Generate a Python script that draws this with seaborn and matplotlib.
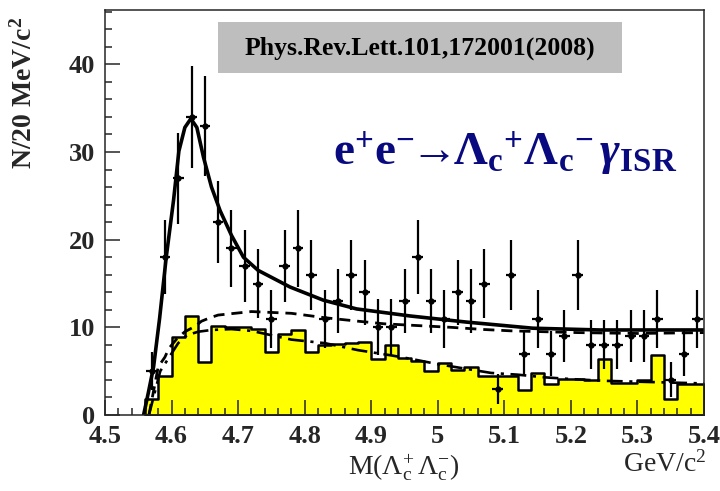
import numpy as np
import pandas as pd
import matplotlib
matplotlib.use("Agg")
import matplotlib.pyplot as plt
from matplotlib.patches import Rectangle
from matplotlib.ticker import MultipleLocator
import seaborn as sns

# ---------------- data ----------------
bin_width = 0.02
mass = np.round(np.arange(4.57, 5.395, bin_width), 2)          # data bin centres
counts = [5, 18, 27, 34, 33, 22, 19, 17, 15, 11,
          17, 19, 16, 11, 13, 16, 14, 10, 10, 13,
          18, 13, 11, 14, 13, 15, 3, 16, 7, 11,
          7, 9, 16, 8, 8, 8, 9, 9, 11, 4,
          7, 11]
errors = [2.2, 4.2, 5.2, 5.8, 5.7, 4.7, 4.4, 4.1, 3.9, 3.3,
          4.1, 4.4, 4.0, 3.3, 3.6, 4.0, 3.7, 3.2, 3.2, 3.6,
          4.2, 3.6, 3.3, 3.7, 3.6, 3.9, 1.7, 4.0, 2.6, 3.3,
          2.6, 3.0, 4.0, 2.8, 2.8, 2.8, 3.0, 3.0, 3.3, 2.0,
          2.6, 3.3]

hist_edges = [round(v, 2) for v in np.arange(4.56, 5.405, bin_width)]
hist_vals = [1.8, 4.4, 8.9, 11.3, 6.1, 10.2, 10.0, 10.0, 9.8, 7.2,
             9.2, 9.7, 7.2, 8.0, 8.1, 8.2, 8.3, 6.4, 8.0, 6.5,
             6.2, 5.0, 5.9, 5.1, 5.5, 4.4, 4.4, 4.5, 2.9, 4.8,
             3.5, 4.1, 4.1, 4.0, 6.4, 3.7, 3.6, 4.0, 6.8, 1.8,
             3.5, 3.5]
hist_centers = [e + bin_width / 2 for e in hist_edges[:-1]]

fit_x = [4.558, 4.565, 4.573, 4.582, 4.592, 4.603, 4.611, 4.620, 4.629, 4.638,
         4.648, 4.660, 4.673, 4.690, 4.708, 4.730, 4.778, 4.828, 4.878, 4.928,
         4.958, 5.043, 5.143, 5.243, 5.343, 5.400]
fit_y = [0.0, 2.5, 5.5, 11.0, 18.0, 24.5, 30.1, 32.8, 33.8, 32.8,
         29.4, 26.0, 23.3, 20.5, 18.0, 16.5, 14.6, 13.1, 12.1, 11.6,
         11.3, 10.6, 9.9, 9.7, 9.7, 9.7]

bkg_x = [4.566, 4.580, 4.590, 4.596, 4.608, 4.620, 4.635, 4.645, 4.658, 4.670,
         4.720, 4.780, 4.830, 4.880, 4.920, 4.970, 5.020, 5.070, 5.110, 5.210,
         5.300, 5.400]
bkg_y = [0.0, 5.5, 6.6, 7.6, 8.7, 9.5, 10.1, 10.7, 11.1, 11.4,
         11.8, 11.6, 11.1, 10.7, 10.4, 10.2, 10.0, 9.75, 9.6, 9.4,
         9.3, 9.4]

side_x = [4.566, 4.583, 4.610, 4.623, 4.640, 4.660, 4.690, 4.720, 4.750, 4.780,
          4.830, 4.880, 4.930, 4.960, 5.000, 5.040, 5.080, 5.120, 5.160, 5.200,
          5.250, 5.300, 5.350, 5.400]
side_y = [0.0, 5.0, 8.2, 9.1, 9.5, 9.7, 9.8, 9.6, 9.1, 8.6,
          8.2, 7.4, 6.8, 6.4, 5.8, 5.3, 4.8, 4.6, 4.3, 4.1,
          3.9, 3.8, 3.7, 3.6]

x_ticks = [4.5, 4.6, 4.7, 4.8, 4.9, 5.0, 5.1, 5.2, 5.3, 5.4]
x_ticklabels = ["4.5", "4.6", "4.7", "4.8", "4.9", "5", "5.1", "5.2", "5.3", "5.4"]
y_ticks = [0, 10, 20, 30, 40]

hist_df = pd.DataFrame({"m": hist_centers, "w": hist_vals})

# ---------------- style ----------------
sns.set_style("ticks")
plt.rcParams["font.family"] = ["Liberation Serif", "DejaVu Serif"]
plt.rcParams["mathtext.fontset"] = "custom"
plt.rcParams["mathtext.rm"] = "Liberation Serif"
plt.rcParams["mathtext.it"] = "Liberation Serif:italic"
plt.rcParams["mathtext.bf"] = "Liberation Serif:bold"
plt.rcParams["mathtext.sf"] = "Liberation Serif:bold:italic"

fig = plt.figure(figsize=(7.2, 4.91), dpi=100)
ax = fig.add_axes([105 / 720, 1 - 415 / 491, 599 / 720, 405 / 491])

sns.histplot(data=hist_df, x="m", weights="w", bins=hist_edges, element="step",
             fill=True, color="#FFFF00", alpha=1, edgecolor="black",
             linewidth=1.8, ax=ax, zorder=1)

sns.lineplot(x=side_x, y=side_y, ax=ax, color="black", lw=1.9,
             linestyle=(0, (6, 2.5, 1.2, 2.5)), estimator=None, sort=False, zorder=3)
sns.lineplot(x=bkg_x, y=bkg_y, ax=ax, color="black", lw=2.0,
             linestyle=(0, (4, 2.5)), estimator=None, sort=False, zorder=3)
sns.lineplot(x=fit_x, y=fit_y, ax=ax, color="black", lw=2.6,
             estimator=None, sort=False, zorder=4)

ax.errorbar(mass, counts, yerr=errors, xerr=0.008, fmt="o", ms=3.5,
            color="black", elinewidth=1.6, capsize=0, zorder=5)

ax.set_axisbelow(False)
ax.set_xlim(4.5, 5.4)
ax.set_ylim(0, 46.2)
ax.set_xticks(x_ticks)
ax.set_xticklabels(x_ticklabels)
ax.set_yticks(y_ticks)
ax.xaxis.set_minor_locator(MultipleLocator(0.02))
ax.yaxis.set_minor_locator(MultipleLocator(2))
ax.tick_params(which="both", direction="in", top=False, right=False, width=1.1)
ax.tick_params(which="major", length=10.5)
ax.tick_params(which="minor", length=4.8)
ax.tick_params(axis="x", which="major", pad=7)
ax.tick_params(axis="y", which="major", pad=7)
for lab in ax.get_xticklabels() + ax.get_yticklabels():
    lab.set_fontsize(19)
    lab.set_fontweight("bold")
for sp in ax.spines.values():
    sp.set_visible(True)
    sp.set_linewidth(1.1)
    sp.set_zorder(8)
ax.set_xlabel("")
ax.set_ylabel("")

# reference box
ax.add_patch(Rectangle((113 / 599, (415 - 73) / 405), 404 / 599, 51 / 405,
                       transform=ax.transAxes, facecolor="#BEBEBE",
                       edgecolor="none", zorder=6))
ax.text((420 - 105) / 599, (415 - 48) / 405, "Phys.Rev.Lett.101,172001(2008)",
        transform=ax.transAxes, ha="center", va="center", fontsize=18.5,
        fontweight="bold", color="black", zorder=7)

# process label
ax.text((333 - 105) / 599, (415 - 165) / 405,
        r"$\mathbf{e^{+}e^{-}\!\!\rightarrow\!\!\Lambda_{c}{}^{+}\Lambda_{c}{}^{-}}\,\mathsf{\gamma}_{\mathbf{ISR}}$",
        transform=ax.transAxes, ha="left", va="baseline", fontsize=34,
        color="#0A0A80", zorder=7)

# axis labels
fig.text(24 / 720, 1 - 93 / 491, r"N/20 MeV/c$^{\mathbf{2}}$", rotation=90, ha="center",
         va="center", fontsize=20, fontweight="bold")
fig.text(404 / 720, 1 - 468 / 491, r"M($\Lambda_{\rm c}^{+}\,\Lambda_{\rm c}^{-}$)",
         ha="center", va="center", fontsize=20)
fig.text(665 / 720, 1 - 464 / 491, r"GeV/c$^{2}$", ha="center", va="center", fontsize=20)

fig.savefig("out.png", dpi=100)
